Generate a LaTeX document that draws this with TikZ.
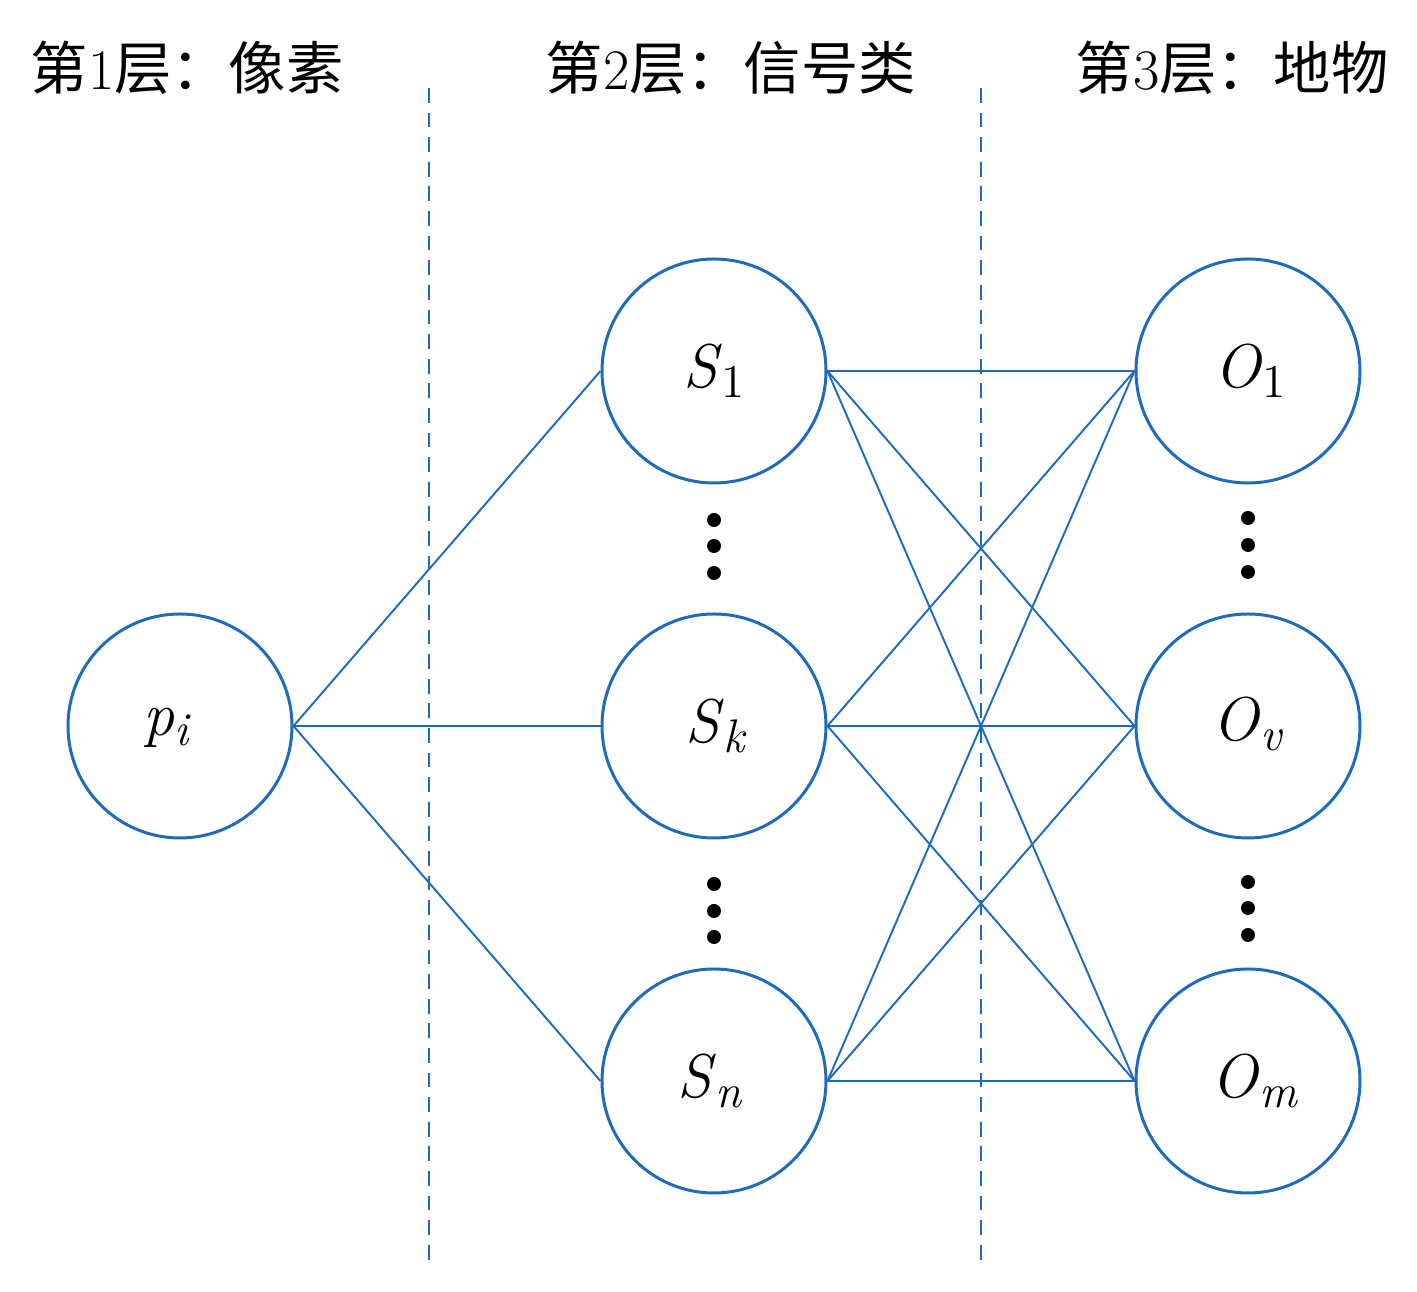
\documentclass[tikz,border=0pt]{standalone}
\usepackage{fontspec}
\newfontfamily\cjk{Noto Sans CJK SC}
\definecolor{nblue}{HTML}{1E6BBE}
\newcommand{\mainsz}{\fontsize{17.6}{20}\selectfont}
\newcommand{\subsz}{\fontsize{13.4}{15}\selectfont}
\newcommand{\lbl}[2]{{\mainsz\textit{#1}}\raisebox{-2.8pt}{\subsz #2}}
\tikzset{
  neuron/.style={circle, draw=nblue, line width=0.85pt, minimum size=224*0.01cm, inner sep=0pt},
  link/.style={draw=nblue, line width=0.55pt},
  sep/.style={draw=nblue, line width=0.55pt, dash pattern=on 4.2pt off 2.8pt},
  head/.style={anchor=west, inner sep=0pt, font=\fontsize{16.3}{18}\selectfont},
  dotc/.style={circle, fill=black, inner sep=0pt, minimum size=14*0.01cm}
}
\begin{document}
\begin{tikzpicture}[x=0.01cm, y=-0.01cm]
\useasboundingbox (0,0) rectangle (1417,1292);
% headers
\node[head] (h1) at (30,68) {{\cjk 第}1{\cjk 层：像素}};
\node[head] (h2) at (545,68) {{\cjk 第}2{\cjk 层：信号类}};
\node[head] (h3) at (1075,68) {{\cjk 第}3{\cjk 层：地物}};
% separators
\coordinate (d1t) at (429,88); \coordinate (d1b) at (429,1263);
\coordinate (d2t) at (981,88); \coordinate (d2b) at (981,1263);
\draw[sep] (d1t) -- (d1b);
\draw[sep] (d2t) -- (d2b);
% nodes
\node[neuron] (p) at (180,726) {};
\node[neuron] (s1) at (714,371) {};
\node[neuron] (sk) at (714,726) {};
\node[neuron] (sn) at (714,1081) {};
\node[neuron] (o1) at (1248,371) {};
\node[neuron] (ov) at (1248,726) {};
\node[neuron] (om) at (1248,1081) {};
% labels
\node (lp) at (167,728) {\lbl{p}{\textit{i}}};
\node (ls1) at (714,371) {\lbl{S}{1}};
\node (lsk) at (716,726) {\lbl{S}{\textit{k}}};
\node (lsn) at (710,1081) {\lbl{S}{\textit{n}}};
\node (lo1) at (1250,371) {\lbl{O}{1}};
\node (lov) at (1248,724) {\lbl{O}{\textit{v}}};
\node (lom) at (1255,1081) {\lbl{O}{\textit{m}}};
% edges
\foreach \s in {s1,sk,sn} {\draw[link] (p.east) -- (\s.west);}
\foreach \s in {s1,sk,sn} {\foreach \o in {o1,ov,om} {\draw[link] (\s.east) -- (\o.west);}}
% dots
\foreach \y [count=\i] in {520,546,573} {\node[dotc] (a\i) at (714,\y) {};}
\foreach \y [count=\i] in {884,911,937} {\node[dotc] (b\i) at (714,\y) {};}
\foreach \y [count=\i] in {518,545,572} {\node[dotc] (c\i) at (1248,\y) {};}
\foreach \y [count=\i] in {882,908,935} {\node[dotc] (e\i) at (1248,\y) {};}
\end{tikzpicture}
\end{document}
